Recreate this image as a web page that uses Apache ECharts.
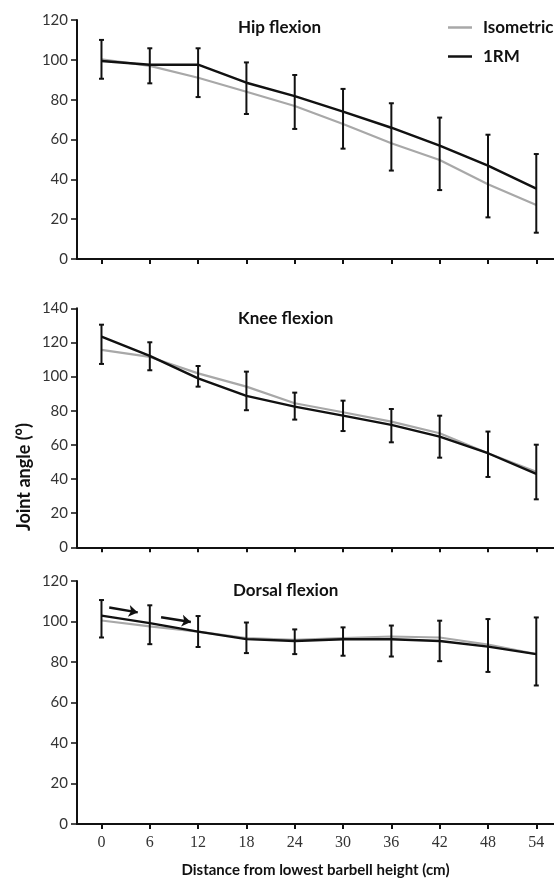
<!DOCTYPE html>
<html>
<head>
<meta charset="utf-8">
<script src="https://cdn.jsdelivr.net/npm/echarts@6/dist/echarts.min.js"></script>
<style>
html,body{margin:0;padding:0;background:#fff;}
#chart{width:554px;height:879px;}
</style>
</head>
<body>
<div id="chart"></div>
<script>
const distances = [0, 6, 12, 18, 24, 30, 36, 42, 48, 54];
const seriesNames = ['Isometric', '1RM'];
const panelTitles = ['Hip flexion', 'Knee flexion', 'Dorsal flexion'];
const yMaxes = [120, 140, 120];

const hipIso = [100.3, 97.0, 91.0, 84.0, 76.8, 67.8, 58.1, 49.7, 37.5, 27.1];
const hip1RM = [99.4, 97.5, 97.6, 88.5, 81.8, 74.0, 65.9, 56.9, 46.9, 35.3];
const hipErrLow = [90.5, 88.2, 81.3, 72.8, 65.3, 55.4, 44.4, 34.6, 20.9, 13.2];
const hipErrHigh = [110.0, 105.8, 105.8, 98.7, 92.4, 85.4, 78.2, 71.0, 62.4, 52.7];

const kneeIso = [115.6, 111.5, 101.9, 94.1, 84.4, 79.1, 73.6, 66.8, 55.1, 44.3];
const knee1RM = [123.4, 112.1, 99.0, 88.7, 82.4, 77.1, 71.7, 64.8, 55.1, 43.0];
const kneeErrLow = [107.4, 103.7, 94.1, 80.3, 74.8, 68.1, 61.5, 52.5, 41.2, 28.1];
const kneeErrHigh = [130.4, 120.1, 106.2, 102.9, 90.6, 85.9, 81.0, 77.1, 67.8, 60.1];

const dorsalIso = [100.5, 97.6, 95.0, 91.8, 91.0, 91.8, 92.6, 92.1, 88.6, 83.9];
const dorsal1RM = [102.9, 99.2, 95.0, 91.3, 90.4, 91.2, 91.2, 90.4, 87.6, 83.9];
const dorsalErrLow = [92.1, 88.8, 87.4, 84.4, 83.9, 83.1, 82.7, 80.4, 75.1, 68.4];
const dorsalErrHigh = [110.6, 108.0, 102.7, 99.5, 96.1, 97.1, 98.0, 100.4, 101.2, 102.0];

// annotation arrows in the dorsal panel, in data units [distance, angle]
const dorsalArrows = [
  [[0.96, 106.9], [4.5, 104.5]],
  [[7.4, 102.1], [11.1, 99.7]]
];

const panels = [
  { iso: hipIso, rm: hip1RM, lo: hipErrLow, hi: hipErrHigh },
  { iso: kneeIso, rm: knee1RM, lo: kneeErrLow, hi: kneeErrHigh },
  { iso: dorsalIso, rm: dorsal1RM, lo: dorsalErrLow, hi: dorsalErrHigh }
];

const FONT = 'Lato, "Open Sans", sans-serif';
const grids = [
  { left: 77, right: 0, top: 20, height: 239 },
  { left: 77, right: 0, top: 308.3, height: 239 },
  { left: 77, right: 0, top: 581, height: 249.7 }
];
const titlePos = [
  { left: 233, top: 14 },
  { left: 233, top: 305 },
  { left: 228, top: 577 }
];

function errRender(params, api) {
  const x = api.value(0), lo = api.value(1), hi = api.value(2);
  const a = api.coord([x, lo]);
  const b = api.coord([x, hi]);
  const w = 2.5;
  const st = { stroke: '#111', lineWidth: 2 };
  return {
    type: 'group',
    children: [
      { type: 'line', shape: { x1: a[0], y1: a[1], x2: b[0], y2: b[1] }, style: st },
      { type: 'line', shape: { x1: a[0] - w, y1: a[1], x2: a[0] + w, y2: a[1] }, style: st },
      { type: 'line', shape: { x1: b[0] - w, y1: b[1], x2: b[0] + w, y2: b[1] }, style: st }
    ]
  };
}

const xAxes = [], yAxes = [], series = [], titles = [];
panels.forEach((p, i) => {
  const last = i === 2;
  xAxes.push({
    type: 'value', gridIndex: i, min: -3.04, max: 56.2,
    axisLine: { show: true, onZero: false, lineStyle: { color: '#111', width: 2 } },
    axisTick: { show: true, customValues: distances, length: 5, lineStyle: { color: '#111', width: 2 } },
    axisLabel: {
      show: last, customValues: distances, margin: 11,
      fontFamily: '"Liberation Serif", serif', fontSize: 16, color: '#333'
    },
    splitLine: { show: false },
    name: last ? 'Distance from lowest barbell height (cm)' : '',
    nameLocation: 'middle', nameGap: 39,
    nameTextStyle: { fontFamily: FONT, fontWeight: 'bold', fontSize: 15, color: '#111' }
  });
  yAxes.push({
    type: 'value', gridIndex: i, min: 0, max: yMaxes[i], interval: 20,
    axisLine: { show: true, onZero: false, lineStyle: { color: '#111', width: 2 } },
    axisTick: { show: true, length: 6, lineStyle: { color: '#111', width: 1.5 } },
    axisLabel: { margin: 9, fontFamily: FONT, fontSize: 15, color: '#333' },
    splitLine: { show: false }
  });
  titles.push({
    text: panelTitles[i], left: titlePos[i].left, top: titlePos[i].top,
    textStyle: { fontFamily: FONT, fontWeight: 'bold', fontSize: 17, color: '#111' }
  });
  const xy = arr => arr.map((v, k) => [distances[k], v]);
  series.push({
    name: seriesNames[0], type: 'line', xAxisIndex: i, yAxisIndex: i,
    data: xy(p.iso), showSymbol: false, symbol: 'none',
    lineStyle: { color: '#a8a8a8', width: 2.2 }, itemStyle: { color: '#a8a8a8' },
    z: 2
  });
  series.push({
    name: seriesNames[1], type: 'line', xAxisIndex: i, yAxisIndex: i,
    data: xy(p.rm), showSymbol: false, symbol: 'none',
    lineStyle: { color: '#111', width: 2.4 }, itemStyle: { color: '#111' },
    z: 3
  });
  const errSeries = {
    type: 'custom', xAxisIndex: i, yAxisIndex: i,
    data: distances.map((d, k) => [d, p.lo[k], p.hi[k]]),
    encode: { x: 0, y: [1, 2] },
    renderItem: errRender, z: 4, silent: true
  };
  if (last) {
    errSeries.markLine = {
      silent: true, symbol: ['none', 'arrow'], symbolSize: [9, 9],
      label: { show: false },
      lineStyle: { color: '#111', width: 2.5, type: 'solid' },
      data: dorsalArrows.map(a => [{ coord: a[0] }, { coord: a[1] }])
    };
  }
  series.push(errSeries);
});

const chart = echarts.init(document.getElementById('chart'), null, { renderer: 'canvas' });
chart.setOption({
  animation: false,
  backgroundColor: '#fff',
  title: titles,
  grid: grids,
  xAxis: xAxes,
  yAxis: yAxes,
  legend: {
    data: [
      { name: 'Isometric', icon: 'rect', itemStyle: { color: '#a8a8a8' } },
      { name: '1RM', icon: 'rect', itemStyle: { color: '#111' } }
    ],
    orient: 'vertical', left: 443, top: 14,
    itemWidth: 24, itemHeight: 2.5, itemGap: 12,
    textStyle: { fontFamily: FONT, fontWeight: 'bold', fontSize: 17, color: '#111', padding: [0, 0, 0, 6] }
  },
  graphic: [{
    type: 'text', left: 15, top: 423,
    rotation: Math.PI / 2,
    style: { text: 'Joint angle (°)', font: 'bold 18px ' + FONT, fill: '#111' }
  }],
  series: series
});
</script>
</body>
</html>
